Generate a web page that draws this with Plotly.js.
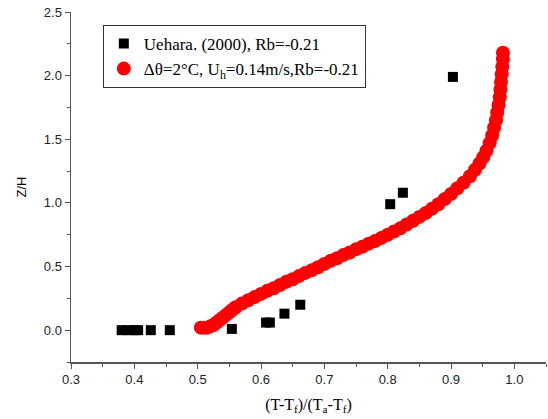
<!DOCTYPE html>
<html>
<head>
<meta charset="utf-8">
<script src="https://cdn.plot.ly/plotly-3.0.1.min.js"></script>
<style>html,body{margin:0;padding:0;background:#fff;}#chart{width:548px;height:419px;}</style>
</head>
<body>
<div id="chart"></div>
<script>
// Uehara (2000) experimental data
var uehX = [0.380, 0.390, 0.400, 0.406, 0.426, 0.456, 0.554, 0.608, 0.614, 0.637, 0.662, 0.804, 0.824, 0.903];
var uehY = [0.00, 0.00, 0.00, 0.00, 0.00, 0.00, 0.01, 0.06, 0.06, 0.13, 0.20, 0.99, 1.08, 1.99];
// Simulation profile
var simX = [0.505, 0.510, 0.515, 0.520, 0.525, 0.530, 0.535, 0.540, 0.545, 0.550, 0.555, 0.560, 0.570, 0.580, 0.590, 0.600, 0.610, 0.620, 0.630, 0.640, 0.650, 0.660, 0.670, 0.680, 0.690, 0.700, 0.710, 0.720, 0.730, 0.740, 0.750, 0.760, 0.770, 0.780, 0.790, 0.800, 0.810, 0.820, 0.830, 0.840, 0.850, 0.860, 0.870, 0.880, 0.890, 0.900, 0.910, 0.920, 0.930, 0.938, 0.945, 0.951, 0.956, 0.961, 0.965, 0.968, 0.971, 0.973, 0.975, 0.977, 0.978, 0.979, 0.980, 0.981, 0.982, 0.982];
var simY = [0.02, 0.02, 0.02, 0.03, 0.04, 0.06, 0.08, 0.10, 0.12, 0.14, 0.16, 0.18, 0.21, 0.235, 0.26, 0.285, 0.31, 0.33, 0.355, 0.38, 0.40, 0.425, 0.45, 0.47, 0.495, 0.52, 0.545, 0.565, 0.59, 0.61, 0.635, 0.655, 0.68, 0.70, 0.725, 0.75, 0.775, 0.80, 0.83, 0.86, 0.89, 0.92, 0.955, 0.99, 1.03, 1.07, 1.115, 1.16, 1.21, 1.26, 1.31, 1.36, 1.41, 1.47, 1.53, 1.59, 1.65, 1.71, 1.77, 1.83, 1.89, 1.95, 2.01, 2.07, 2.13, 2.18];

var serif = 'Liberation Serif, Times New Roman, serif';
var sans = 'Liberation Sans, Arial, sans-serif';

var traces = [
  {x: uehX, y: uehY, type: 'scatter', mode: 'markers', name: 'Uehara. (2000), Rb=-0.21',
   marker: {symbol: 'square', color: '#000', size: 10}},
  {x: simX, y: simY, type: 'scatter', mode: 'markers', name: '\u0394\u03b8=2\u00b0C, U<sub>h</sub>=0.14m/s,Rb=-0.21',
   marker: {symbol: 'circle', color: '#ff0000', size: 14}}
];

var axisCommon = {
  showgrid: false, zeroline: false, showline: true, linecolor: '#555', linewidth: 1.5,
  ticks: 'outside', ticklen: 5, tickcolor: '#555', tickwidth: 1,
  tickfont: {family: sans, size: 13, color: '#222'}
};

var layout = {
  width: 548, height: 419,
  margin: {l: 71, r: 2, t: 12, b: 57},
  paper_bgcolor: '#fff', plot_bgcolor: '#fff',
  showlegend: true,
  legend: {x: 0.067, y: 0.963, xanchor: 'left', yanchor: 'top',
           bgcolor: '#fff', bordercolor: '#333', borderwidth: 1,
           font: {family: serif, size: 17, color: '#000'}, tracegroupgap: 0},
  xaxis: Object.assign({}, axisCommon, {
    range: [0.3, 1.05], tickvals: [0.3,0.4,0.5,0.6,0.7,0.8,0.9,1.0],
    ticktext: ['0.3','0.4','0.5','0.6','0.7','0.8','0.9','1.0'],
    minor: {ticks: 'outside', ticklen: 3, tickcolor: '#555', dtick: 0.05, tick0: 0.3},
    title: {text: '(T-T<sub>f</sub>)/(T<sub>a</sub>-T<sub>f</sub>)', font: {family: serif, size: 16, color: '#000'}, standoff: 12}
  }),
  yaxis: Object.assign({}, axisCommon, {
    range: [-0.25, 2.5], tickvals: [0,0.5,1,1.5,2,2.5],
    ticktext: ['0.0','0.5','1.0','1.5','2.0','2.5'],
    minor: {ticks: 'outside', ticklen: 3, tickcolor: '#555', dtick: 0.25, tick0: 0},
    title: {text: 'Z/H', font: {family: sans, size: 13, color: '#000'}, standoff: 14}
  })
};

Plotly.newPlot('chart', traces, layout, {displayModeBar: false, staticPlot: true});
</script>
</body>
</html>
